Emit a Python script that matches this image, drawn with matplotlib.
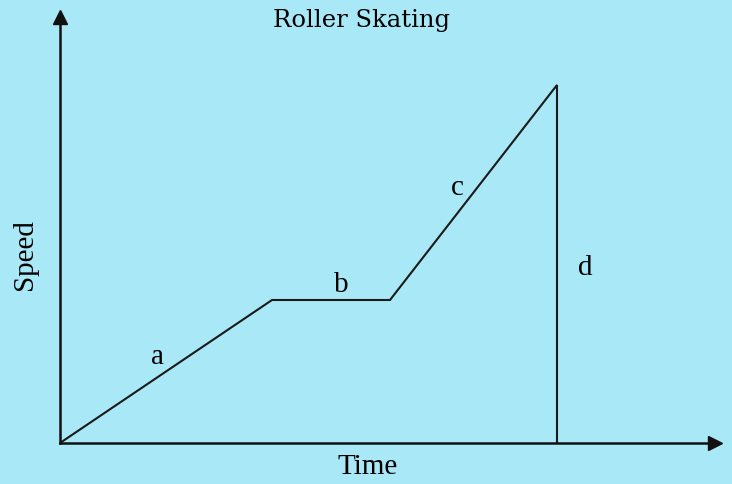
import matplotlib.pyplot as plt

# speed-time graph (arbitrary units)
time = [0, 21.2, 33.0, 49.7, 49.7]
speed = [0, 14.3, 14.3, 35.8, 0]

seg_labels = ["a", "b", "c", "d"]
label_pos = [(9.7, 8.7), (28.1, 15.9), (39.7, 25.6), (52.5, 17.6)]

bg = "#a9e9f7"
serif = ["Liberation Serif", "DejaVu Serif"]

fig = plt.figure(figsize=(7.32, 4.85), dpi=100, facecolor=bg)
ax = fig.add_axes([60 / 732, 41 / 485, 655 / 732, 426 / 485])
ax.set_facecolor(bg)
ax.set_xlim(0, 65.5)
ax.set_ylim(0, 42.6)

for s in ["top", "right"]:
    ax.spines[s].set_visible(False)
for s in ["left", "bottom"]:
    ax.spines[s].set_linewidth(1.8)
    ax.spines[s].set_color("#111111")
ax.set_xticks([])
ax.set_yticks([])

# arrowheads
ax.plot(1, 0, ">", ms=10, color="#111111", transform=ax.transAxes, clip_on=False)
ax.plot(0, 1, "^", ms=10, color="#111111", transform=ax.transAxes, clip_on=False)

ax.plot(time, speed, color="#1a1a1a", lw=1.5, solid_joinstyle="miter")

for lab, (x, y) in zip(seg_labels, label_pos):
    ax.text(x, y, lab, fontsize=21, family=serif, ha="center", va="center")

fig.text(362 / 732, 1 - 20 / 485, "Roller Skating", fontsize=17.5,
         family=["DejaVu Serif"], ha="center", va="center")
fig.text(368 / 732, 1 - 467 / 485, "Time", fontsize=21, family=serif,
         ha="center", va="center")
fig.text(25 / 732, 1 - 255 / 485, "Speed", fontsize=21, family=serif,
         ha="center", va="center", rotation=90)

fig.savefig("out.png", dpi=100, facecolor=bg)
